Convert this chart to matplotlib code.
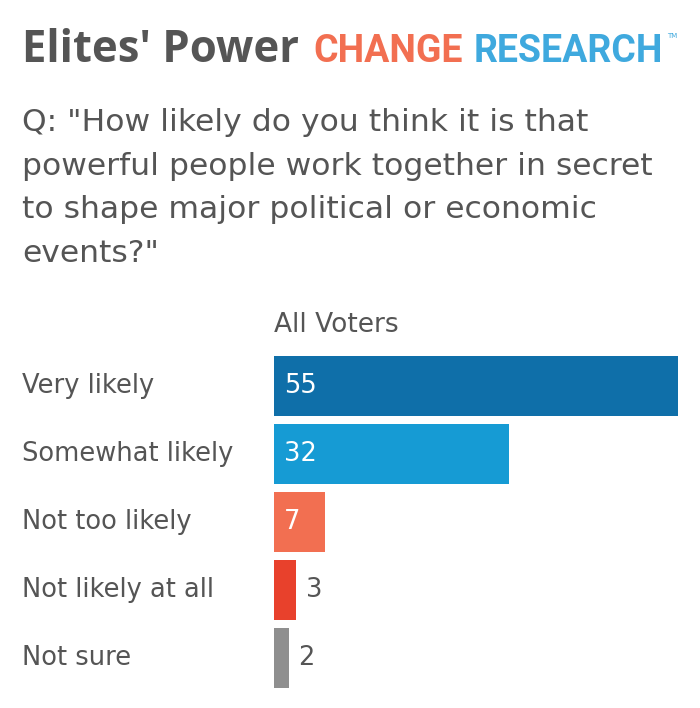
import matplotlib
matplotlib.use("Agg")
import matplotlib.pyplot as plt
from matplotlib.transforms import blended_transform_factory

categories = ["Very likely", "Somewhat likely", "Not too likely", "Not likely at all", "Not sure"]
values = [55, 32, 7, 3, 2]
colors = ["#0f6fa9", "#169bd4", "#f26f51", "#e8412c", "#8f8f8f"]
column = "All Voters"
title = "Elites' Power"
question = ['Q: "How likely do you think it is that',
            'powerful people work together in secret',
            'to shape major political or economic',
            'events?"']

plt.rcParams["font.family"] = ["Open Sans", "DejaVu Sans"]
txt = "#555555"
body = ["DejaVu Sans"]

W, H = 700, 708
fig = plt.figure(figsize=(W / 100, H / 100), dpi=100)

# bar area in pixels: x 274..678, y 352..692
ax = fig.add_axes([274 / W, (H - 692) / H, 404 / W, 340 / H])
y = list(range(len(values)))
ax.barh(y, values, height=60 / 68, color=colors)
ax.set_xlim(0, 55)
ax.set_ylim(len(values) - 0.5, -0.5)
ax.axis("off")

lab = blended_transform_factory(fig.transFigure, ax.transData)
for i, (c, v) in enumerate(zip(categories, values)):
    ax.text(22 / W, i, c, transform=lab, ha="left", va="center", fontsize=18.5,
            color=txt, family=body)
    if v >= 5:
        ax.annotate(str(v), (0, i), xytext=(7, 0), textcoords="offset points",
                    ha="left", va="center", fontsize=18.5, color="white", family=body)
    else:
        ax.annotate(str(v), (v, i), xytext=(7, 0), textcoords="offset points",
                    ha="left", va="center", fontsize=18.5, color=txt, family=body)

fig.text(274 / W, 1 - 325 / H, column, ha="left", va="center", fontsize=19,
         color=txt, family=body)

fig.text(22 / W, 1 - 62 / H, title, ha="left", va="baseline", fontsize=31.4,
         fontweight="bold", color=txt)
fig.text(313 / W, 1 - 62 / H, "CHANGE", ha="left", va="baseline", fontsize=27,
         fontweight="bold", color="#f26f51", family=["Roboto"])
fig.text(474 / W, 1 - 62 / H, "RESEARCH", ha="left", va="baseline", fontsize=27,
         fontweight="bold", color="#3fa9de", family=["Roboto"])
fig.text(667 / W, 1 - 38 / H, "TM", ha="left", va="baseline", fontsize=5,
         color="#3fa9de", family=body)

for k, line in enumerate(question):
    fig.text(22 / W, 1 - (131 + 43.6 * k) / H, line, ha="left", va="baseline",
             fontsize=22.6, color=txt, family=body)

fig.savefig("out.png", dpi=100)
